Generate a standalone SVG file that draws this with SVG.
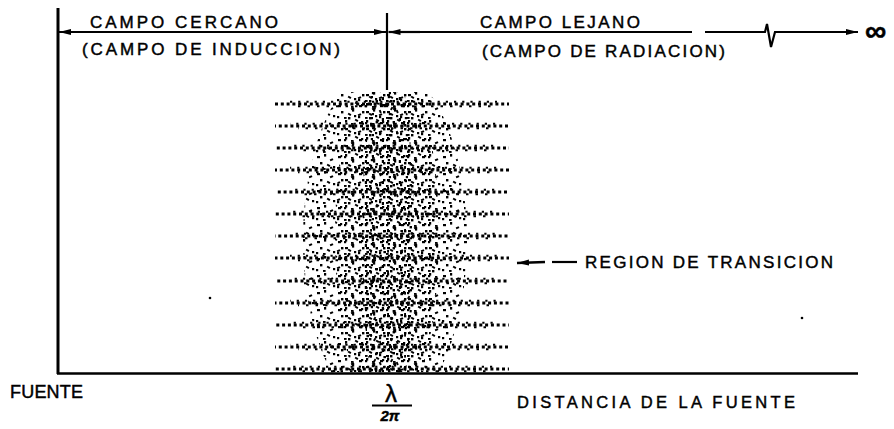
<svg xmlns="http://www.w3.org/2000/svg" xmlns:xlink="http://www.w3.org/1999/xlink" width="894" height="429" viewBox="0 0 894 429">
  <style>
    .lbl { font-family: "Liberation Sans", Arial, sans-serif; fill: #000; stroke: #000; stroke-width: 0.45; }
    .ln { stroke: #000; fill: none; stroke-linecap: butt; }
    .row line { stroke: #000; }
  </style>
  <defs>
    <marker id="ah" viewBox="0 0 12 8" refX="12" refY="4" markerWidth="12" markerHeight="8" markerUnits="userSpaceOnUse" orient="auto">
      <path d="M0,1 L12,4 L0,7 Z" fill="#000"/>
    </marker>
    <pattern id="dots" width="21" height="17" patternUnits="userSpaceOnUse">
      <rect x="2" y="3" width="3" height="2.2" fill="#000"/>
      <rect x="9" y="1" width="2.2" height="2.6" fill="#000"/>
      <rect x="15" y="6" width="3.2" height="2" fill="#000" transform="rotate(-25 16 7)"/>
      <rect x="5" y="9" width="2.4" height="2.4" fill="#000"/>
      <rect x="12" y="11" width="3.2" height="2" fill="#000" transform="rotate(30 13 12)"/>
      <rect x="18" y="13" width="2.2" height="2.2" fill="#000"/>
      <rect x="1" y="14" width="2.2" height="2.2" fill="#000"/>
      <rect x="8" y="15" width="2.6" height="1.9" fill="#000"/>
    </pattern>
    <pattern id="dots2" href="#dots" xlink:href="#dots" patternTransform="translate(7 6)"/>
    <pattern id="dots3" href="#dots" xlink:href="#dots" patternTransform="translate(13 11) rotate(90)"/>
    <g id="row" class="row">
      <line x1="275" y1="0" x2="509" y2="0" stroke-width="2.8" stroke-dasharray="3 2.8"/>
      <line x1="290" y1="-2.2" x2="497" y2="-2.2" stroke-width="2" stroke-dasharray="2.2 6"/>
      <line x1="298" y1="2.2" x2="492" y2="2.2" stroke-width="2" stroke-dasharray="2.5 7"/>
    </g>
    <clipPath id="blobclip">
      <rect x="260" y="92" width="270" height="280"/>
    </clipPath>
  </defs>

  <!-- frame / axes -->
  <g id="axes">
    <line class="ln" x1="58" y1="8" x2="58" y2="374" stroke-width="3"/>
    <line class="ln" x1="57" y1="373.5" x2="858" y2="373.5" stroke-width="2.6"/>
    <line class="ln" x1="387" y1="13" x2="387" y2="90" stroke-width="2.2"/>
  </g>

  <!-- connectors: dimension lines -->
  <g id="connectors">
    <line class="ln" x1="387" y1="32" x2="59" y2="32" stroke-width="2.2" marker-end="url(#ah)"/>
    <line class="ln" x1="200" y1="32" x2="386" y2="32" stroke-width="2.2" marker-end="url(#ah)"/>
    <line class="ln" x1="420" y1="32" x2="388.5" y2="32" stroke-width="2.2" marker-end="url(#ah)"/>
    <polyline class="ln" points="420,32 692,32" stroke-width="2.2"/>
    <polyline class="ln" points="705,32 765,32 767,24 771,47 775,32 790,32" stroke-width="2.2"/>
    <line class="ln" x1="790" y1="32" x2="858" y2="32" stroke-width="2.2" marker-end="url(#ah)"/>
    <line class="ln" x1="545" y1="262" x2="517" y2="263" stroke-width="2.4" marker-end="url(#ah)"/>
    <line class="ln" x1="552" y1="262" x2="577" y2="262" stroke-width="2.2"/>
  </g>

  <!-- transition region stipple -->
  <g id="transition-region">
    <use href="#row" xlink:href="#row" y="104"/>
    <use href="#row" xlink:href="#row" y="126" stroke-dashoffset="2"/>
    <use href="#row" xlink:href="#row" y="148" stroke-dashoffset="4"/>
    <use href="#row" xlink:href="#row" y="170" stroke-dashoffset="1"/>
    <use href="#row" xlink:href="#row" y="192" stroke-dashoffset="3"/>
    <use href="#row" xlink:href="#row" y="214" stroke-dashoffset="5"/>
    <use href="#row" xlink:href="#row" y="236" stroke-dashoffset="2.5"/>
    <use href="#row" xlink:href="#row" y="258" stroke-dashoffset="0.5"/>
    <use href="#row" xlink:href="#row" y="281" stroke-dashoffset="3.5"/>
    <use href="#row" xlink:href="#row" y="303" stroke-dashoffset="1.5"/>
    <use href="#row" xlink:href="#row" y="325" stroke-dashoffset="4.5"/>
    <use href="#row" xlink:href="#row" y="347" stroke-dashoffset="2"/>
    <use href="#row" xlink:href="#row" y="369" stroke-dashoffset="5"/>
    <g clip-path="url(#blobclip)">
      <ellipse cx="385" cy="240" rx="82" ry="175" fill="url(#dots)"/>
      <ellipse cx="387" cy="236" rx="52" ry="180" fill="url(#dots2)"/>
      <ellipse cx="388" cy="236" rx="26" ry="185" fill="url(#dots3)"/>
    </g>
  </g>

  <!-- stray marks -->
  <g id="marks">
    <circle cx="210" cy="298" r="1.3" fill="#000"/>
    <circle cx="802" cy="318" r="1.3" fill="#000"/>
  </g>

  <!-- labels -->
  <g id="label-near">
    <text class="lbl" x="90" y="28" font-size="17" textLength="188" lengthAdjust="spacing">CAMPO CERCANO</text>
    <text class="lbl" x="82" y="55" font-size="17" textLength="258" lengthAdjust="spacing">(CAMPO DE INDUCCION)</text>
  </g>
  <g id="label-far">
    <text class="lbl" x="480" y="28" font-size="17" textLength="160" lengthAdjust="spacing">CAMPO LEJANO</text>
    <text class="lbl" x="482" y="57" font-size="17" textLength="243" lengthAdjust="spacing">(CAMPO DE RADIACION)</text>
  </g>
  <g id="label-infinity">
    <text class="lbl" x="865" y="41" font-size="30" font-weight="bold">∞</text>
  </g>
  <g id="label-transition">
    <text class="lbl" x="585" y="268" font-size="17" textLength="248" lengthAdjust="spacing">REGION DE TRANSICION</text>
  </g>
  <g id="label-source">
    <text class="lbl" x="10" y="398" font-size="18" textLength="73" lengthAdjust="spacing">FUENTE</text>
  </g>
  <g id="label-lambda">
    <text class="lbl" x="391" y="402" font-size="24" text-anchor="middle">λ</text>
    <line class="ln" x1="372" y1="405.5" x2="412" y2="405.5" stroke-width="2.2"/>
    <text class="lbl" x="390" y="421" font-size="15" text-anchor="middle" font-style="italic" font-weight="bold">2π</text>
  </g>
  <g id="label-distance">
    <text class="lbl" x="517" y="408" font-size="16.5" textLength="278" lengthAdjust="spacing">DISTANCIA DE LA FUENTE</text>
  </g>
</svg>
